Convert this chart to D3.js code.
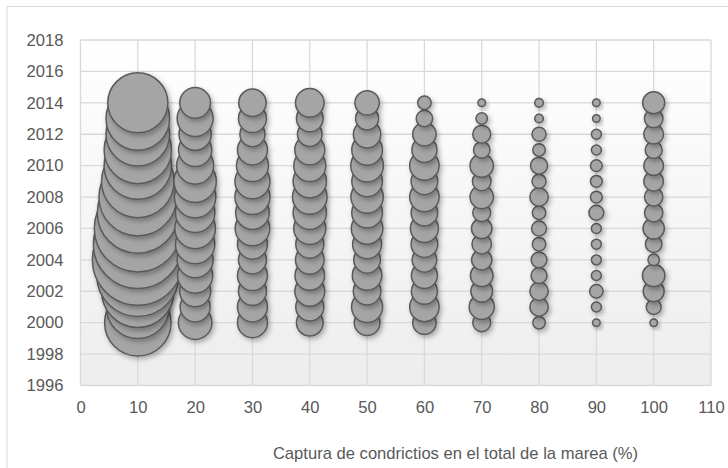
<!DOCTYPE html>
<html>
<head>
<meta charset="utf-8">
<script src="https://cdn.jsdelivr.net/npm/d3@7/dist/d3.min.js"></script>
<style>
  html, body { margin: 0; padding: 0; background: #ffffff; }
  svg { display: block; font-family: "Liberation Sans", Arial, sans-serif; }
</style>
</head>
<body>
<svg id="chart" width="728" height="468"></svg>
<script>
// ---- Data ----
const years = [2000, 2001, 2002, 2003, 2004, 2005, 2006, 2007, 2008, 2009, 2010, 2011, 2012, 2013, 2014];
const categories = [10, 20, 30, 40, 50, 60, 70, 80, 90, 100];
// relative bubble size (area) per year, one array per category
const size10  = [53.5, 48.1, 63.6, 81.6, 100, 95.6, 91.8, 79.6, 73.4, 63.9, 55.1, 55.1, 49.1, 49.1, 43.7];
const size20  = [13.7, 10.9, 11.7, 15.0, 15.7, 18.8, 20.0, 18.8, 20.8, 21.8, 16.6, 13.4, 12.6, 15.7, 11.5];
const size30  = [10.9, 10.9, 9.5, 10.9, 9.5, 10.9, 14.5, 13.7, 14.9, 14.9, 12.4, 10.9, 7.6, 9.5, 9.1];
const size40  = [8.6, 9.5, 10.9, 10.6, 9.9, 9.5, 12.4, 13.5, 14.5, 13.5, 12.4, 10.9, 7.3, 8.6, 9.9];
const size50  = [8.0, 11.7, 9.2, 10.6, 8.6, 10.2, 12.1, 11.4, 12.7, 11.4, 12.9, 11.4, 9.1, 6.4, 7.2];
const size60  = [6.6, 10.5, 8.2, 8.2, 7.3, 8.6, 9.5, 8.5, 10.5, 8.6, 10.5, 7.6, 6.6, 3.3, 2.2];
const size70  = [3.9, 7.6, 5.7, 6.2, 5.0, 4.6, 5.1, 3.9, 6.6, 4.2, 6.6, 3.3, 3.9, 1.6, 0.7];
const size80  = [1.9, 4.1, 4.1, 3.1, 3.0, 2.2, 2.7, 2.2, 4.1, 2.4, 3.5, 1.9, 2.4, 0.9, 0.9];
const size90  = [0.7, 1.2, 2.2, 1.2, 1.2, 1.2, 1.2, 2.7, 1.7, 1.7, 1.7, 1.2, 1.2, 0.7, 0.7];
const size100 = [0.7, 2.7, 5.3, 6.1, 1.6, 3.3, 5.5, 4.1, 4.1, 4.7, 4.7, 3.5, 4.7, 4.2, 5.9];
const sizeSeries = [size10, size20, size30, size40, size50, size60, size70, size80, size90, size100];

const xTicks = [0, 10, 20, 30, 40, 50, 60, 70, 80, 90, 100, 110];
const yTicks = [1996, 1998, 2000, 2002, 2004, 2006, 2008, 2010, 2012, 2014, 2016, 2018];
const xTitle = "Captura de condrictios en el total de la marea (%)";

// ---- Drawing ----
const svg = d3.select("#chart");
const plot = { left: 80.5, right: 711, top: 40, bottom: 385.5 };

const x = d3.scaleLinear().domain([0, 110]).range([plot.left, plot.right]);
const y = d3.scaleLinear().domain([1996, 2018]).range([plot.bottom, plot.top]);
const r = d3.scaleSqrt().domain([0, 100]).range([0, 45.4]);

const defs = svg.append("defs");
const grad = defs.append("linearGradient").attr("id", "bg").attr("x1", 0).attr("y1", 0).attr("x2", 0).attr("y2", 1);
grad.append("stop").attr("offset", "0%").attr("stop-color", "#ffffff");
grad.append("stop").attr("offset", "100%").attr("stop-color", "#ededed");
const f = defs.append("filter").attr("id", "shadow").attr("x", "-50%").attr("y", "-50%").attr("width", "200%").attr("height", "200%");
f.append("feDropShadow").attr("dx", 2).attr("dy", 2.5).attr("stdDeviation", 2.5)
  .attr("flood-color", "#000").attr("flood-opacity", 0.3);

// outer chart border
svg.append("rect").attr("x", 7).attr("y", 6.5).attr("width", 740).attr("height", 480)
  .attr("fill", "none").attr("stroke", "#d9d9d9").attr("stroke-width", 1);

// plot background
svg.append("rect").attr("x", plot.left).attr("y", plot.top)
  .attr("width", plot.right - plot.left).attr("height", plot.bottom - plot.top)
  .attr("fill", "url(#bg)");

// gridlines
const grid = svg.append("g").attr("stroke", "#d9d9d9").attr("stroke-width", 1.3);
grid.selectAll("line.v").data(xTicks).join("line")
  .attr("x1", d => x(d)).attr("x2", d => x(d)).attr("y1", plot.top).attr("y2", plot.bottom);
grid.selectAll("line.h").data(yTicks).join("line")
  .attr("y1", d => y(d)).attr("y2", d => y(d)).attr("x1", plot.left).attr("x2", plot.right);

// axes (labels only)
const xAxis = svg.append("g").attr("transform", `translate(0,${plot.bottom})`)
  .call(d3.axisBottom(x).tickValues(xTicks).tickSize(0).tickPadding(16).tickFormat(d3.format("d")));
const yAxis = svg.append("g").attr("transform", `translate(${plot.left},0)`)
  .call(d3.axisLeft(y).tickValues(yTicks).tickSize(0).tickPadding(17).tickFormat(d3.format("d")));
[xAxis, yAxis].forEach(a => {
  a.select(".domain").remove();
  a.selectAll("text").attr("fill", "#595959").style("font-size", "16.6px")
    .style("font-family", "'Liberation Sans', Arial, sans-serif");
});

// bubbles
const points = [];
categories.forEach((c, i) => {
  years.forEach((yr, j) => points.push({ cat: c, year: yr, size: sizeSeries[i][j] }));
});
svg.append("g").selectAll("circle").data(points).join("circle")
  .attr("cx", d => x(d.cat)).attr("cy", d => y(d.year)).attr("r", d => r(d.size))
  .attr("fill", "#a5a5a5").attr("stroke", "#5a5a5a").attr("stroke-width", 1.5)
  .attr("filter", "url(#shadow)");

// axis title
svg.append("text").attr("x", 455.5).attr("y", 458.5).attr("text-anchor", "middle")
  .attr("fill", "#595959").style("font-size", "16.6px").text(xTitle);
</script>
</body>
</html>
